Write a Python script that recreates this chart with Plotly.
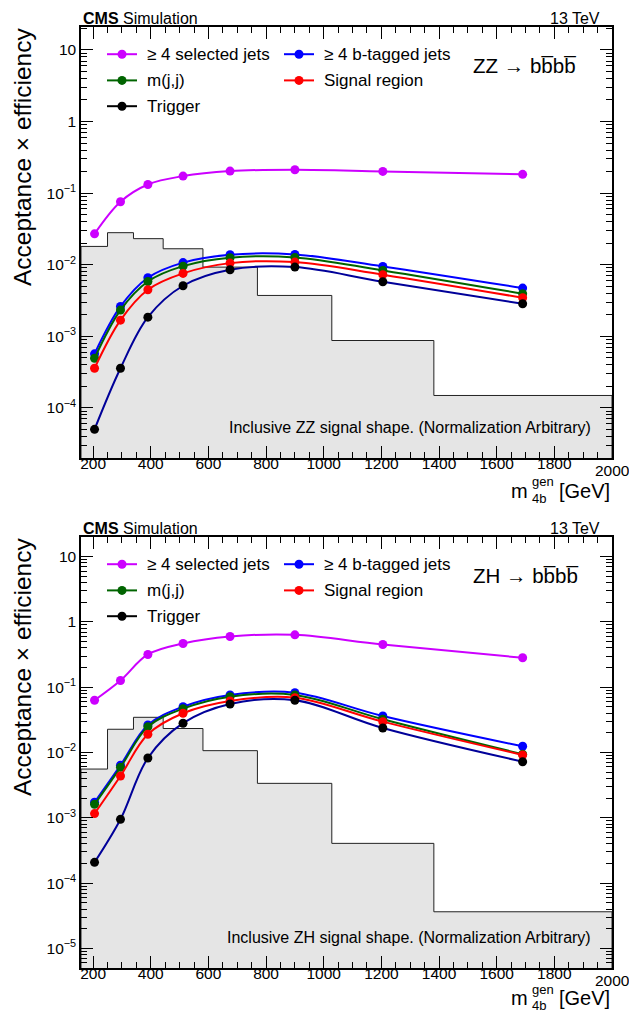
import plotly.graph_objects as go

# ---------------- data ----------------
mass = [205, 295, 390, 512, 675, 900, 1205, 1690]

# ZZ -> bbbb (top panel)
zz_sel4 = [0.027, 0.0758, 0.132, 0.173, 0.203, 0.212, 0.201, 0.183]
zz_btag4 = [5.69e-4, 2.61e-3, 6.58e-3, 0.0107, 0.0138, 0.0139, 0.00946, 0.00471]
zz_mjj = [4.94e-4, 2.32e-3, 5.83e-3, 9.55e-3, 0.01253, 0.01265, 0.00832, 0.00393]
zz_sr = [3.58e-4, 1.68e-3, 4.47e-3, 7.56e-3, 0.01052, 0.01087, 0.00725, 0.00345]
zz_trig = [5.02e-5, 3.58e-4, 1.85e-3, 5.08e-3, 8.51e-3, 9.25e-3, 5.78e-3, 2.85e-3]

# ZH -> bbbb (bottom panel)
zh_sel4 = [0.0632, 0.1267, 0.317, 0.467, 0.597, 0.634, 0.451, 0.282]
zh_btag4 = [1.73e-3, 6.37e-3, 0.0264, 0.0503, 0.0760, 0.0824, 0.0362, 0.01245]
zh_mjj = [1.61e-3, 5.93e-3, 0.0248, 0.0469, 0.0716, 0.0760, 0.0323, 0.0094]
zh_sr = [1.16e-3, 4.37e-3, 0.0190, 0.0399, 0.0615, 0.0692, 0.0297, 0.00916]
zh_trig = [2.08e-4, 9.48e-4, 8.24e-3, 0.0281, 0.0553, 0.0631, 0.0237, 0.00723]

# inclusive signal shapes (arbitrary normalization), variable bins
hist_edges = [158, 250, 340, 443, 581, 770, 1028, 1382, 2000]
zz_shape = [0.018, 0.028, 0.0231, 0.0167, 0.00925, 0.00372, 0.000873, 0.000149]
zh_shape = [0.00558, 0.0227, 0.0346, 0.0233, 0.01067, 0.00337, 0.000406, 3.64e-5]

x_tick_vals = [200, 400, 600, 800, 1000, 1200, 1400, 1600, 1800, 2000]

series_names = ["\u2265 4 selected jets", "\u2265 4 b-tagged jets", "m(j,j)",
                "Signal region", "Trigger"]
line_colors = ["#cc00ff", "#0000ff", "#006400", "#ff0000", "#000099"]
marker_colors = ["#cc00ff", "#0000ff", "#006400", "#ff0000", "#000000"]
legend_line_colors = ["#cc00ff", "#0000ff", "#006400", "#ff0000", "#000000"]

x_range = [158, 2000]
y_range_top = [-4.70, 1.32]
y_range_bot = [-5.30, 1.30]

FONT = "Liberation Sans, Arial, sans-serif"

# ---------------- layout geometry (pixels) ----------------
W, H = 629, 1015
L, R, T, B = 81, 612, 27, 968
TOP_BOTTOM_PX = 458
BOT_TOP_PX = 537


def px(xp):
    return (xp - L) / (R - L)


def py(yp):
    return (B - yp) / (B - T)


fig = go.Figure()


def add_hist(edges, vals, xa, ya):
    xs, ys = [edges[0]], [1e-8]
    for i, v in enumerate(vals):
        xs += [edges[i], edges[i + 1]]
        ys += [v, v]
    xs.append(edges[-1])
    ys.append(1e-8)
    fig.add_trace(go.Scatter(x=xs, y=ys, mode="lines", fill="toself",
                             fillcolor="#e5e5e5",
                             line=dict(color="#222222", width=1),
                             xaxis=xa, yaxis=ya, showlegend=False,
                             hoverinfo="skip"))


def add_curves(series, xa, ya):
    for s, lc, mc, nm in zip(series, line_colors, marker_colors, series_names):
        fig.add_trace(go.Scatter(x=mass, y=s, mode="lines+markers",
                                 line=dict(color=lc, width=2, shape="spline"),
                                 marker=dict(color=mc, size=9),
                                 name=nm, xaxis=xa, yaxis=ya,
                                 showlegend=False))


add_hist(hist_edges, zz_shape, "x", "y")
add_curves([zz_sel4, zz_btag4, zz_mjj, zz_sr, zz_trig], "x", "y")
add_hist(hist_edges, zh_shape, "x2", "y2")
add_curves([zh_sel4, zh_btag4, zh_mjj, zh_sr, zh_trig], "x2", "y2")

top_dom = [py(TOP_BOTTOM_PX), 1.0]
bot_dom = [0.0, py(BOT_TOP_PX)]


def xaxis_cfg(anchor):
    # the last label (at the very edge) is written as an annotation below
    return dict(type="linear", range=x_range, domain=[0, 1], anchor=anchor,
                automargin=False,
                showline=True, linecolor="black", linewidth=1.5,
                mirror="ticks", ticks="inside", ticklen=12, tickwidth=1,
                tickcolor="black", tickmode="array",
                tickvals=x_tick_vals[:-1],
                ticktext=[str(v) for v in x_tick_vals[:-1]],
                ticklabelstandoff=-9,
                minor=dict(ticks="inside", ticklen=6, tickwidth=1,
                           tickcolor="black", dtick=50, tick0=0,
                           showgrid=False),
                showgrid=False, zeroline=False,
                tickfont=dict(family=FONT, size=15.5, color="black"))


def sup_label(e):
    if e == 1:
        return "10"
    if e == 0:
        return "1"
    return "10<sup>\u2212%d</sup>" % (-e)


def yaxis_cfg(anchor, yr, dom):
    lo = int(yr[0]) - 1
    hi = int(yr[1]) + 1
    majors = [e for e in range(lo, hi + 1) if yr[0] <= e <= yr[1]]
    minors = []
    for e in range(lo, hi + 1):
        for m in range(2, 10):
            v = m * 10.0 ** e
            if 10 ** yr[0] <= v <= 10 ** yr[1]:
                minors.append(v)
    return dict(type="log", range=yr, domain=dom, anchor=anchor,
                automargin=False,
                showline=True, linecolor="black", linewidth=1.5,
                mirror="ticks", ticks="inside", ticklen=12, tickwidth=1,
                tickcolor="black", tickmode="array",
                tickvals=[10.0 ** e for e in majors],
                ticktext=[sup_label(e) for e in majors],
                minor=dict(ticks="inside", ticklen=6, tickwidth=1,
                           tickcolor="black", tickmode="array",
                           tickvals=minors, showgrid=False),
                showgrid=False, zeroline=False,
                tickfont=dict(family=FONT, size=15.5, color="black"))


annotations = []
shapes = []


def text(s, xp, yp, size, xanchor="left", yanchor="middle", angle=0):
    annotations.append(dict(text=s, x=px(xp), y=py(yp), xref="paper",
                            yref="paper", showarrow=False, xanchor=xanchor,
                            yanchor=yanchor, textangle=angle,
                            font=dict(family=FONT, size=size, color="black")))


def panel_decor(top_px, bottom_px, proc_label, shape_label, title_dy, xa):
    # last x tick label, placed on the axis' own coordinate
    annotations.append(dict(text=str(x_tick_vals[-1]), x=x_tick_vals[-1],
                            xref=xa, y=py(bottom_px + 12), yref="paper",
                            showarrow=False, xanchor="center",
                            yanchor="middle",
                            font=dict(family=FONT, size=15.5, color="black")))
    # header
    text("<b>CMS</b> Simulation", 81, top_px - 8.3, 16)
    text("13 TeV", 602, top_px - 8.3, 16, xanchor="right")
    # process label
    text(proc_label, 471, top_px + 38.5, 20.5)
    # shape label
    text(shape_label, 593, bottom_px - 30.5, 16, xanchor="right")
    # y title
    text("Acceptance \u00d7 efficiency", 22, top_px + 130, 24.5,
         xanchor="center", yanchor="middle", angle=-90)
    # x title
    mc = bottom_px + title_dy
    text("m", 530, mc, 20, xanchor="right")
    text("gen", 530, mc - 9, 13)
    text("4b", 530, mc + 7, 13)
    text("[GeV]", 612, mc, 20, xanchor="right")
    # legend
    rows = [top_px + 27.2, top_px + 53.4, top_px + 79.2]
    cols = [(107, 137, 122, 145), (284, 314, 299, 322)]
    placement = [(0, 0), (1, 0), (0, 1), (1, 1), (0, 2)]
    for i, (c, r) in enumerate(placement):
        x0, x1, xm, xt = cols[c]
        yy = rows[r]
        shapes.append(dict(type="line", xref="paper", yref="paper",
                           x0=px(x0), x1=px(x1), y0=py(yy), y1=py(yy),
                           line=dict(color=legend_line_colors[i], width=2)))
        shapes.append(dict(type="circle", xref="paper", yref="paper",
                           xsizemode="pixel", ysizemode="pixel",
                           xanchor=px(xm), yanchor=py(yy),
                           x0=-4.5, x1=4.5, y0=-4.5, y1=4.5,
                           fillcolor=marker_colors[i],
                           line=dict(color=marker_colors[i], width=0)))
        text(series_names[i], xt, yy, 17)


panel_decor(T, TOP_BOTTOM_PX, "ZZ \u2192 b" + "b\u0305" + "b" + "b\u0305",
            "Inclusive ZZ signal shape. (Normalization Arbitrary)", 33, "x")
panel_decor(BOT_TOP_PX, B, "ZH \u2192 b" + "b\u0305" + "b" + "b\u0305",
            "Inclusive ZH signal shape. (Normalization Arbitrary)", 30, "x2")

fig.update_layout(
    width=W, height=H,
    margin=dict(l=L, r=W - R, t=T, b=H - B, pad=0, autoexpand=False),
    paper_bgcolor="white", plot_bgcolor="white",
    showlegend=False,
    xaxis=xaxis_cfg("y"),
    yaxis=yaxis_cfg("x", y_range_top, top_dom),
    xaxis2=xaxis_cfg("y2"),
    yaxis2=yaxis_cfg("x2", y_range_bot, bot_dom),
    annotations=annotations,
    shapes=shapes,
    font=dict(family=FONT, color="black"),
)

fig.write_html("out.html",
               config={"displayModeBar": False},
               post_script="document.body.style.margin='0px';"
                           "document.body.style.padding='0px';")
